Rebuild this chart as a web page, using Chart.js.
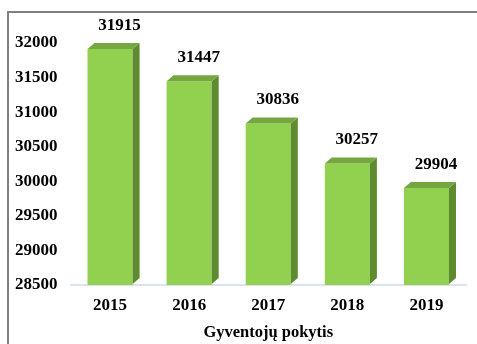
<!DOCTYPE html>
<html>
<head>
<meta charset="utf-8">
<script src="https://cdn.jsdelivr.net/npm/chart.js@4"></script>
<style>
  html, body { margin: 0; padding: 0; background: #fff; }
  #wrap { position: relative; width: 477px; height: 344px; }
  #frame {
    position: absolute; left: 7px; top: 11px; right: 0; bottom: 0;
    border-left: 2px solid #7f7f7f; border-top: 2px solid #7f7f7f;
    pointer-events: none;
  }
  canvas { position: absolute; left: 0; top: 0; }
</style>
</head>
<body>
<div id="wrap">
  <canvas id="chart" width="477" height="344"></canvas>
  <div id="frame"></div>
</div>
<script>
const years = ['2015', '2016', '2017', '2018', '2019'];
const residents = [31915, 31447, 30836, 30257, 29904];
const axisTitle = 'Gyventojų pokytis';

const FONT = "'Liberation Serif', 'Times New Roman', serif";
const DEPTH = 7;    // horizontal offset of the fake 3d faces
const RISE = 6;     // vertical offset of the fake 3d faces

// side and top faces plus value labels on every bar
const bars3d = {
  id: 'bars3d',
  afterDatasetsDraw(chart) {
    const ctx = chart.ctx;
    const meta = chart.getDatasetMeta(0);
    const floor = chart.chartArea.bottom;
    ctx.save();
    meta.data.forEach((bar, i) => {
      const { x, y, base, width } = bar.getProps(['x', 'y', 'base', 'width'], true);
      const bottom = Math.min(base, floor);
      const l = x - width / 2, r = x + width / 2;

      ctx.fillStyle = '#5e8b30';
      ctx.beginPath();
      ctx.moveTo(r, y);
      ctx.lineTo(r + DEPTH, y - RISE);
      ctx.lineTo(r + DEPTH, bottom - RISE - 1);
      ctx.lineTo(r, bottom - 1);
      ctx.closePath();
      ctx.fill();

      ctx.fillStyle = '#75a640';
      ctx.beginPath();
      ctx.moveTo(l, y);
      ctx.lineTo(l + DEPTH, y - RISE);
      ctx.lineTo(r + DEPTH, y - RISE);
      ctx.lineTo(r, y);
      ctx.closePath();
      ctx.fill();

      ctx.fillStyle = '#000';
      ctx.font = 'bold 17px ' + FONT;
      ctx.textAlign = 'center';
      ctx.textBaseline = 'bottom';
      ctx.fillText(residents[i], x + DEPTH / 2 + 6, y - RISE - 9);
    });
    ctx.restore();
  }
};

new Chart(document.getElementById('chart'), {
  type: 'bar',
  data: {
    labels: years,
    datasets: [{
      data: residents,
      backgroundColor: '#92d050',
      borderWidth: 0,
      categoryPercentage: 1,
      barPercentage: 0.57
    }]
  },
  options: {
    responsive: false,
    animation: false,
    layout: { padding: { top: 43, right: 11, bottom: 0, left: 0 } },
    plugins: { legend: { display: false }, tooltip: { enabled: false } },
    scales: {
      x: {
        grid: { display: false, drawTicks: false },
        border: { display: true, color: '#d9e3f1', width: 2 },
        ticks: { color: '#000', padding: 10, font: { family: FONT, size: 17, weight: 'bold' } },
        title: {
          display: true, text: axisTitle, color: '#000',
          padding: { top: 0, bottom: 1 },
          font: { family: FONT, size: 16.5, weight: 'bold' }
        },
        afterFit(scale) { scale.height = 59; }
      },
      y: {
        min: 28500, max: 32000,
        grid: { display: false, drawTicks: false },
        border: { display: false },
        ticks: {
          stepSize: 500, color: '#000', padding: 13,
          font: { family: FONT, size: 17, weight: 'bold' },
          callback: v => String(v)
        },
        afterFit(scale) { scale.width = 70.5; }
      }
    }
  },
  plugins: [bars3d]
});
</script>
</body>
</html>
